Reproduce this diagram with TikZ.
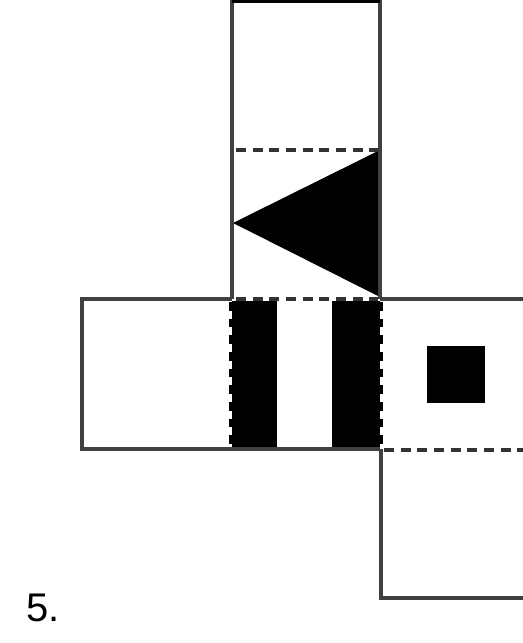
\documentclass[tikz,border=0pt]{standalone}
\usepackage{fontspec}
\setmainfont{Liberation Sans}
\begin{document}
\begin{tikzpicture}[x=0.75pt,y=-0.75pt,
  edge/.style={draw=black!75,line width=2.5pt},
  fold/.style={draw=black!80,line width=2.5pt,dash pattern=on 7.5pt off 5pt},
  wavy/.style={draw=black,line width=2.2pt,dash pattern=on 6.5pt off 6pt},
  ink/.style={fill=black}]
\useasboundingbox (0,0) rectangle (523,643);
% black stripes in the centre face
\fill[ink] (232,301) rectangle (277,449);
\fill[ink] (332,301) rectangle (380,449);
\draw[wavy] (230.5,302) -- (230.5,449);
\draw[wavy] (381.5,302) -- (381.5,449);
% triangle
\fill[ink] (380,150) -- (233,223) -- (380,297) -- cycle;
% small square
\fill[ink] (427,346) rectangle (485,403);
% outlines
\draw[edge] (232,299) -- (232,1.5) -- (380,1.5) -- (380,299);
\draw[edge,draw=black] (232,1.5) -- (380,1.5);
\draw[edge] (232,299) -- (82,299) -- (82,449) -- (380,449);
\draw[edge] (380,299) -- (523,299);
\draw[edge] (381,449) -- (381,598) -- (523,598);
% fold lines
\draw[fold] (236,150) -- (380,150);
\draw[fold] (236,299) -- (378,299);
\draw[fold] (384,450) -- (523,450);
% label
\node[anchor=base west,inner sep=0pt,font=\fontsize{30pt}{34pt}\selectfont] (lbl) at (26,621) {5.};
\end{tikzpicture}
\end{document}
